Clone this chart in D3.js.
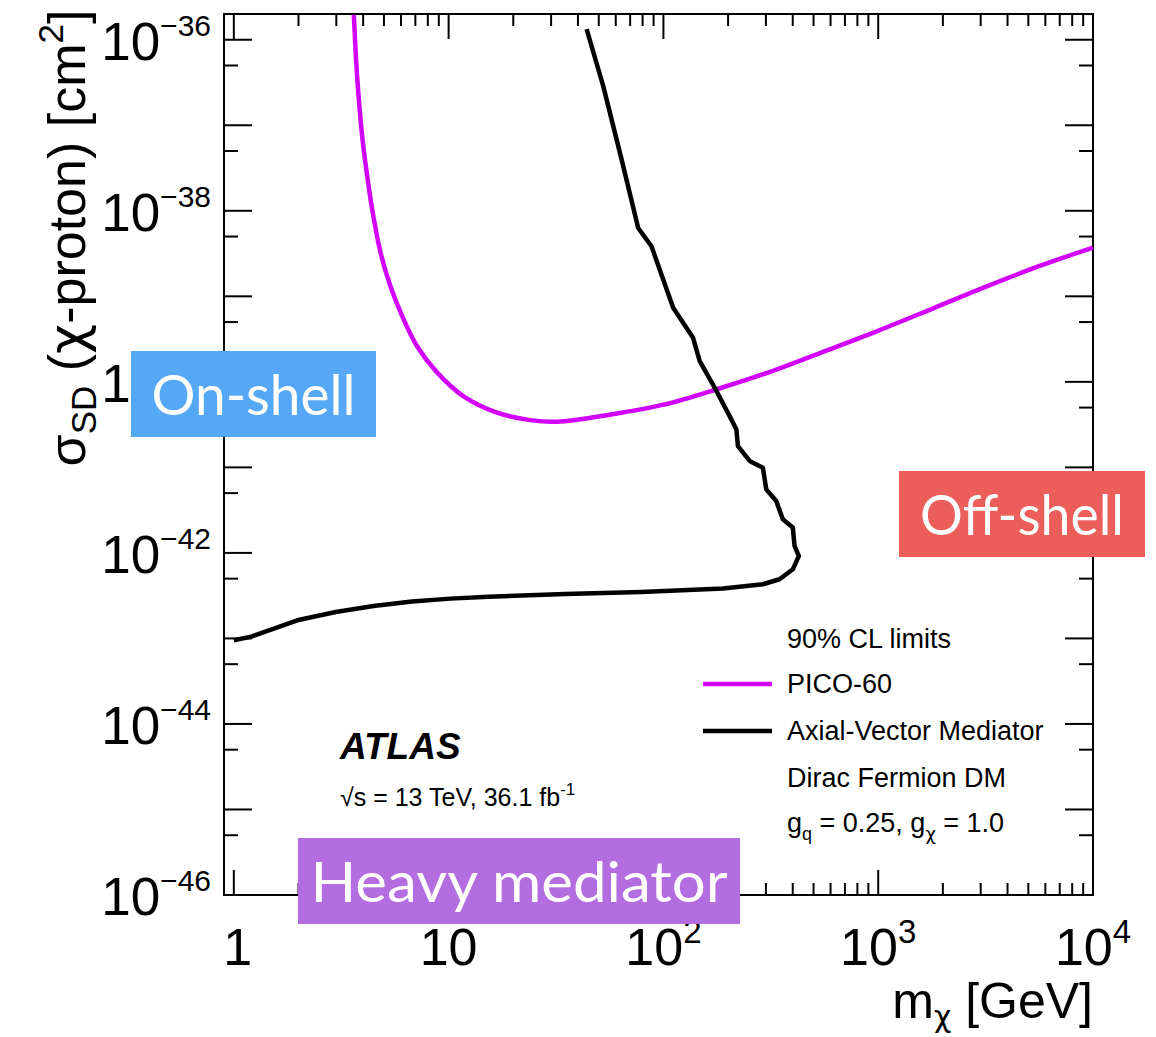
<!DOCTYPE html>
<html>
<head>
<meta charset="utf-8">
<script src="https://cdn.jsdelivr.net/npm/d3@7"></script>
<style>
  body { margin: 0; background: #fff; }
  svg text { font-family: "Liberation Sans", Arial, sans-serif; }
  .greek { font-family: "DejaVu Sans", sans-serif; }
</style>
</head>
<body>
<script>
'use strict';

// PICO-60 limit (mass in GeV, cross-section in cm^2)
const picoMass = [3.62, 3.75, 3.96, 4.18, 4.41, 4.82, 5.36, 6.08, 7.13, 8.83, 11.7, 16.8, 24.0, 31.9, 57.2, 101.5, 180, 319, 566, 1004, 1781, 3157, 5602, 10000];
const picoXsec = [1.96e-36, 3.73e-37, 7.41e-38, 2.53e-38, 1.03e-38, 3.25e-39, 1.31e-39, 5.86e-40, 2.61e-40, 1.29e-40, 6.81e-41, 4.36e-41, 3.57e-41, 3.42e-41, 4.16e-41, 5.45e-41, 8.3e-41, 1.33e-40, 2.29e-40, 3.98e-40, 7.14e-40, 1.29e-39, 2.25e-39, 3.72e-39];

// ATLAS axial-vector mediator limit
const avMass = [43.9, 52.5, 63.9, 76.3, 88.0, 111, 137.4, 147.6, 173.3, 203.4, 218.6, 222.3, 252, 290.4, 301.2, 335.2, 359.7, 400.4, 407.7, 426.9, 400.4, 347.2, 290.4, 189.4, 78.9, 34.8, 15.3, 10.2, 6.75, 4.47, 2.98, 1.975, 1.207, 1.0];
const avXsec = [1.33e-36, 2.85e-37, 3.97e-38, 6.3e-39, 3.85e-39, 7.35e-40, 3.27e-40, 1.75e-40, 8.53e-41, 3.97e-41, 2.78e-41, 1.77e-41, 1.19e-41, 9.93e-42, 5.53e-42, 4.04e-42, 2.47e-42, 1.98e-42, 1.21e-42, 9.2e-43, 6.43e-43, 4.92e-43, 4.3e-43, 3.83e-43, 3.49e-43, 3.31e-43, 3.08e-43, 2.92e-43, 2.7e-43, 2.4e-43, 2.04e-43, 1.63e-43, 1.05e-43, 9.53e-44];

const xTickExps = [0, 1, 2, 3, 4];
const yLabelExps = [-36, -38, -40, -42, -44, -46];

const legendLines = ["90% CL limits", "PICO-60", "Axial-Vector Mediator", "Dirac Fermion DM"];
const regionLabels = ["On-shell", "Off-shell", "Heavy mediator"];

(function() {
  const W = 1156, H = 1037;
  const pL = 224, pR = 1093, pT = 14, pB = 895;

  const svg = d3.select('body').append('svg')
    .attr('width', W).attr('height', H);

  const x = d3.scaleLog().domain([0.9, 1e4]).range([pL, pR]);
  const y = d3.scaleLog().domain([1e-46, 2e-36]).range([pB, pT]);

  svg.append('clipPath').attr('id', 'plotclip')
    .append('rect')
    .attr('x', pL).attr('y', pT)
    .attr('width', pR - pL).attr('height', pB - pT);

  // ticks on all four sides (ROOT style)
  let xTicks = [];
  for (let e = 0; e < 4; e++) {
    for (let k = 1; k < 10; k++) xTicks.push({ v: k * Math.pow(10, e), major: k === 1 });
  }
  xTicks.push({ v: 1e4, major: true });

  let yTicks = [];
  for (let e = -46; e <= -36; e++) {
    yTicks.push({ v: Math.pow(10, e), major: true });
    yTicks.push({ v: 5 * Math.pow(10, e), major: false });
  }
  yTicks = yTicks.filter(t => t.v >= 1e-46 && t.v <= 2e-36);

  const ticks = svg.append('g').attr('stroke', '#000').attr('stroke-width', 2);
  xTicks.forEach(t => {
    const len = t.major ? 25 : 12;
    const px = x(t.v);
    ticks.append('line').attr('x1', px).attr('x2', px).attr('y1', pB).attr('y2', pB - len);
    ticks.append('line').attr('x1', px).attr('x2', px).attr('y1', pT).attr('y2', pT + len);
  });
  yTicks.forEach(t => {
    const len = t.major ? 28 : 14;
    const py = y(t.v);
    ticks.append('line').attr('x1', pL).attr('x2', pL + len).attr('y1', py).attr('y2', py);
    ticks.append('line').attr('x1', pR).attr('x2', pR - len).attr('y1', py).attr('y2', py);
  });

  svg.append('rect')
    .attr('x', pL).attr('y', pT)
    .attr('width', pR - pL).attr('height', pB - pT)
    .attr('fill', 'none').attr('stroke', '#000').attr('stroke-width', 2);

  // tick labels
  xTickExps.forEach(e => {
    const t = svg.append('text')
      .attr('x', x(Math.pow(10, e)) + (e === 0 ? 4 : 0))
      .attr('y', 965)
      .attr('text-anchor', 'middle')
      .style('font-size', '52px');
    if (e === 0) t.text('1');
    else if (e === 1) t.text('10');
    else {
      t.append('tspan').text('10');
      t.append('tspan').attr('dy', -22).style('font-size', '33px').text(e);
    }
  });

  yLabelExps.forEach(e => {
    const py = y(Math.pow(10, e));
    const t = svg.append('text')
      .attr('x', 211).attr('y', py + 20)
      .attr('text-anchor', 'end')
      .style('font-size', '53px');
    t.append('tspan').text('10');
    t.append('tspan').attr('dy', -24).style('font-size', '30px').text('\u2212' + Math.abs(e));
  });

  // axis titles
  const xt = svg.append('text')
    .attr('x', pR).attr('y', 1018)
    .attr('text-anchor', 'end')
    .style('font-size', '50px');
  xt.append('tspan').text('m');
  xt.append('tspan').attr('class', 'greek').attr('dy', 9).style('font-size', '30px').text('\u03c7');
  xt.append('tspan').attr('dy', -9).text(' [GeV]');

  const yt = svg.append('text')
    .attr('transform', 'translate(85, 238) rotate(-90)')
    .attr('text-anchor', 'middle')
    .style('font-size', '52px');
  yt.append('tspan').text('\u03c3');
  yt.append('tspan').attr('dy', 11).style('font-size', '35px').text('SD');
  yt.append('tspan').attr('dy', -11).text(' (');
  yt.append('tspan').attr('class', 'greek').text('\u03c7');
  yt.append('tspan').text('-proton) [cm');
  yt.append('tspan').attr('dy', -22).style('font-size', '35px').text('2');
  yt.append('tspan').attr('dy', 22).text(']');

  // curves
  const plot = svg.append('g').attr('clip-path', 'url(#plotclip)');

  const picoLine = d3.line()
    .x(d => x(d[0])).y(d => y(d[1]))
    .curve(d3.curveCatmullRom);
  plot.append('path')
    .datum(d3.zip(picoMass, picoXsec))
    .attr('d', picoLine)
    .attr('fill', 'none')
    .attr('stroke', '#d200ff')
    .attr('stroke-width', 4.5);

  const avLine = d3.line()
    .x(d => x(d[0])).y(d => y(d[1]))
    .curve(d3.curveLinear);
  plot.append('path')
    .datum(d3.zip(avMass, avXsec))
    .attr('d', avLine)
    .attr('fill', 'none')
    .attr('stroke', '#000')
    .attr('stroke-width', 4.5)
    .attr('stroke-linejoin', 'round');

  // legend
  const lg = svg.append('g').style('font-size', '27px');
  lg.append('text').attr('x', 787).attr('y', 648).text(legendLines[0]);
  lg.append('line').attr('x1', 703).attr('x2', 772).attr('y1', 684).attr('y2', 684)
    .attr('stroke', '#d200ff').attr('stroke-width', 4.5);
  lg.append('text').attr('x', 787).attr('y', 693).text(legendLines[1]);
  lg.append('line').attr('x1', 703).attr('x2', 772).attr('y1', 731).attr('y2', 731)
    .attr('stroke', '#000').attr('stroke-width', 4.5);
  lg.append('text').attr('x', 787).attr('y', 740).text(legendLines[2]);
  lg.append('text').attr('x', 787).attr('y', 787).text(legendLines[3]);
  const gl = lg.append('text').attr('x', 787).attr('y', 832);
  gl.append('tspan').text('g');
  gl.append('tspan').attr('dy', 8).style('font-size', '18px').text('q');
  gl.append('tspan').attr('dy', -8).text(' = 0.25, g');
  gl.append('tspan').attr('class', 'greek').attr('dy', 8).style('font-size', '18px').text('\u03c7');
  gl.append('tspan').attr('dy', -8).text(' = 1.0');

  // ATLAS label
  svg.append('text')
    .attr('x', 340).attr('y', 759)
    .style('font-size', '37px')
    .style('font-weight', 'bold')
    .style('font-style', 'italic')
    .text('ATLAS');
  const en = svg.append('text').attr('x', 340).attr('y', 806).style('font-size', '25px');
  en.append('tspan').text('\u221as = 13 TeV, 36.1 fb');
  en.append('tspan').attr('dy', -11).style('font-size', '17px').text('-1');

  // region boxes drawn over the frame
  const boxes = [
    { label: regionLabels[0], x0: 131, y0: 351, w: 245, h: 86, fill: '#55a8f6', tl: 204 },
    { label: regionLabels[1], x0: 899, y0: 471, w: 246, h: 86, fill: '#eb5e5a', tl: 204 },
    { label: regionLabels[2], x0: 298, y0: 838, w: 442, h: 86, fill: '#b46ce1', tl: 417 }
  ];
  boxes.forEach(b => {
    svg.append('rect')
      .attr('x', b.x0).attr('y', b.y0).attr('width', b.w).attr('height', b.h)
      .attr('fill', b.fill);
    svg.append('text')
      .attr('x', b.x0 + b.w / 2).attr('y', b.y0 + 64)
      .attr('text-anchor', 'middle')
      .attr('textLength', b.tl)
      .attr('lengthAdjust', 'spacingAndGlyphs')
      .style('font-family', 'Lato, "DejaVu Sans", sans-serif')
      .style('font-size', '56px')
      .attr('fill', '#fff')
      .text(b.label);
  });
})();
</script>
</body>
</html>
